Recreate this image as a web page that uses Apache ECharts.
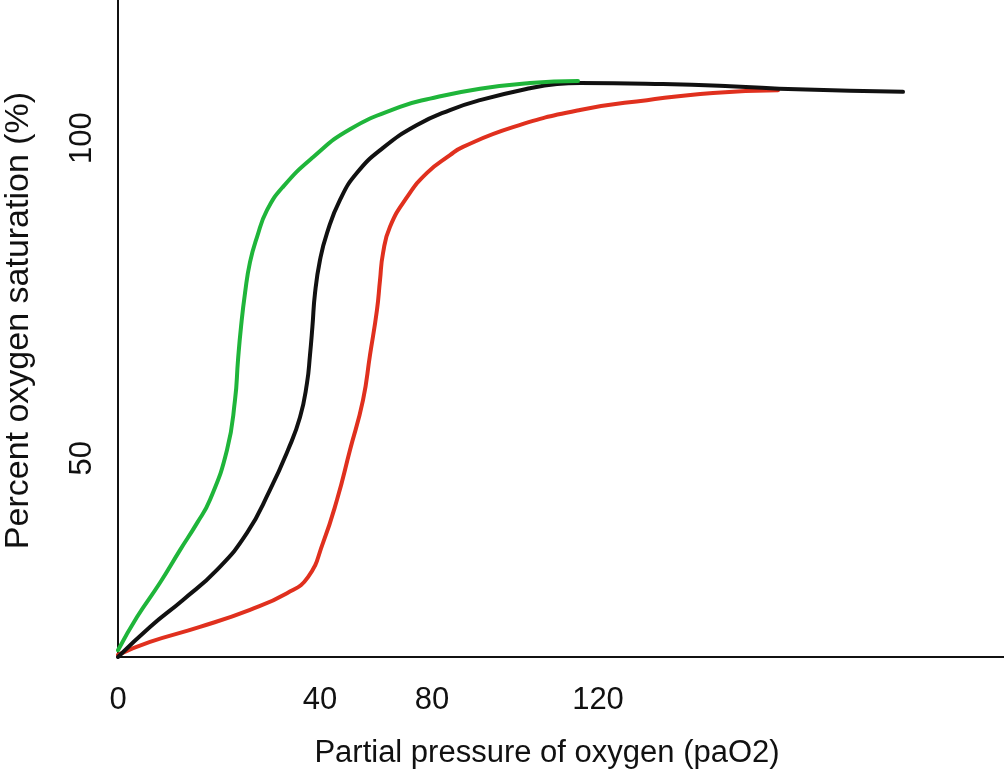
<!DOCTYPE html>
<html>
<head>
<meta charset="utf-8">
<title>Oxygen dissociation curves</title>
<script src="https://cdn.jsdelivr.net/npm/echarts@6/dist/echarts.min.js"></script>
<style>
  html, body { margin: 0; padding: 0; background: #fff; }
  #chart { width: 1004px; height: 775px; }
</style>
</head>
<body>
<div id="chart"></div>
<script>
"use strict";

// x in drawing units (the printed ticks are not evenly spaced)
const xTickValues = [0, 50.5, 78.5, 120];
const xTickLabels = ["0", "40", "80", "120"];
const yTickValues = [38.3, 100];
const yTickLabels = ["50", "100"];

// left-shifted curve
const greenCurve = [
  [0, 1.3], [4.75, 7.7], [10.5, 14.3], [15.5, 20.6], [19.75, 25.8],
  [23, 30.3], [27.25, 39.9], [29.25, 49.5], [30, 57.2], [30.75, 63.6],
  [31.75, 70.1], [33, 76.1], [34.75, 80.9], [37.25, 86.1], [41.25, 90.6],
  [48.75, 96.3], [58, 101.7], [70.5, 106.0], [78, 107.6], [90.5, 109.5],
  [103, 110.6], [115, 111],
];

// normal curve
const blackCurve = [
  [0, 0], [8, 5.8], [16.25, 11], [24.75, 16.8], [32.25, 23.9],
  [38, 32.2], [42.5, 39.9], [45.5, 46.2], [47.25, 52.8], [48, 58.2],
  [48.6, 63.6], [49.25, 70.1], [50.5, 76.5], [52.25, 81.7], [55.5, 88.1],
  [59.75, 93.3], [66.25, 98.1], [74.75, 102.5], [83, 105.4], [90.5, 107.3],
  [103, 109.6], [109.75, 110.4], [115.5, 110.6], [136.25, 110.4],
  [153, 110], [169.75, 109.4], [196.25, 108.9],
];

// right-shifted curve
const redCurve = [
  [0, 0.4], [8, 2.9], [20.5, 5.8], [33, 9.1], [42.25, 12.3],
  [47.5, 15.4], [51.25, 22], [54.75, 30.3], [58, 39.9], [61.25, 49.5],
  [63, 58.2], [64.75, 66.9], [65.5, 72.6], [66.25, 77.8], [68, 82.9],
  [72.25, 88.6], [77.25, 93.3], [83, 96.7], [86.25, 98.3], [98.75, 102.1],
  [115.5, 105.4], [132.25, 107.3], [148.75, 108.7], [165, 109.2],
];

const FONT = "'Liberation Sans', Arial, sans-serif";

function curve(data, color) {
  return {
    type: "line",
    data: data,
    smooth: 0.5,
    showSymbol: false,
    silent: true,
    animation: false,
    lineStyle: { color: color, width: 4, cap: "round", join: "round" },
  };
}

const chart = echarts.init(document.getElementById("chart"));
chart.setOption({
  backgroundColor: "#fff",
  animation: false,
  grid: {
    left: 118, right: 0, top: 0, bottom: 118,
    containLabel: false,
    outerBoundsMode: "none", // v6: keep the grid where it is put
  },
  xAxis: {
    type: "value",
    min: 0,
    max: 221.5,
    name: "Partial pressure of oxygen (paO2)",
    nameLocation: "middle",
    nameGap: 81,
    nameMoveOverlap: false,
    nameTextStyle: {
      color: "#111", fontFamily: FONT, fontSize: 31, padding: [0, 28, 0, 0],
    },
    axisLine: { onZero: false, lineStyle: { color: "#111", width: 2 } },
    axisTick: { show: false },
    splitLine: { show: false },
    axisLabel: {
      customValues: xTickValues,
      formatter: (v) => xTickLabels[xTickValues.indexOf(v)],
      color: "#111",
      fontFamily: FONT,
      fontSize: 31,
      margin: 28,
      showMinLabel: true,
      showMaxLabel: true,
    },
  },
  yAxis: {
    type: "value",
    min: 0,
    max: 126.6,
    name: "Percent oxygen saturation (%)",
    nameLocation: "middle",
    nameGap: 82,
    nameMoveOverlap: false,
    nameTextStyle: {
      color: "#111", fontFamily: FONT, fontSize: 34, padding: [0, 0, 0, 16],
    },
    axisLine: { onZero: false, lineStyle: { color: "#111", width: 2 } },
    axisTick: { show: false },
    splitLine: { show: false },
    axisLabel: {
      customValues: yTickValues,
      formatter: (v) => yTickLabels[yTickValues.indexOf(v)],
      rotate: 90,
      color: "#111",
      fontFamily: FONT,
      fontSize: 31,
      margin: 20,
    },
  },
  series: [
    curve(redCurve, "#e0301e"),
    curve(blackCurve, "#111111"),
    curve(greenCurve, "#1fb53a"),
  ],
});
</script>
</body>
</html>
